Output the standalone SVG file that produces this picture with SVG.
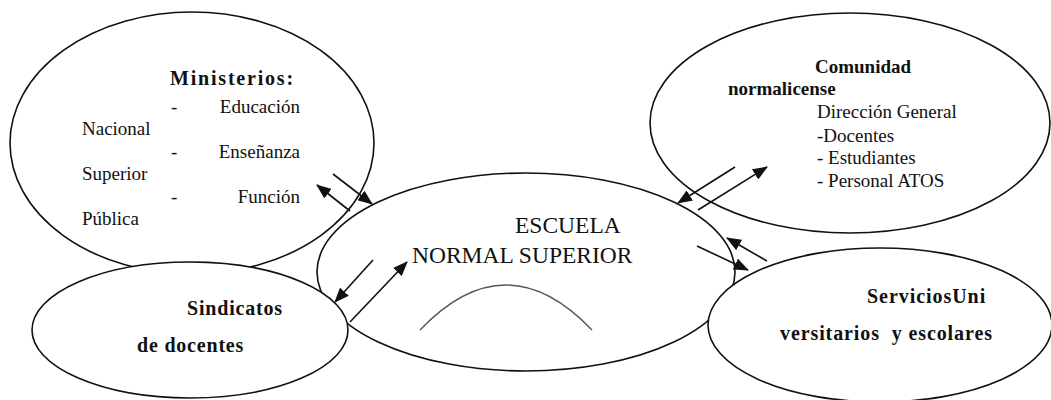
<svg xmlns="http://www.w3.org/2000/svg" width="1051" height="400" viewBox="0 0 1051 400">
<style>
.e{fill:none;stroke:#111;stroke-width:1.6}
.w{fill:#fff;stroke:#111;stroke-width:1.6}
text{font-family:'Liberation Serif','DejaVu Serif',serif;font-size:19px;fill:#111}
.b{font-weight:bold}
.c{stroke:#111;stroke-width:1.6;fill:none;marker-end:url(#ah)}
</style>
<defs>
<marker id="ah" viewBox="0 0 15 12" refX="14" refY="6" markerWidth="15" markerHeight="12" markerUnits="userSpaceOnUse" orient="auto">
<path d="M0,0 L15,6 L0,12 z" fill="#111"/>
</marker>
</defs>
<rect width="1051" height="400" fill="#fff"/>
<g id="ministerios">
<ellipse class="e" cx="192" cy="143" rx="182" ry="131"/>
<text class="b" x="170" y="85" style="font-size:20px;letter-spacing:1.8px">Ministerios:</text>
<text x="171" y="113">-</text>
<text x="300" y="113" text-anchor="end">Educación</text>
<text x="82" y="135">Nacional</text>
<text x="171" y="158">-</text>
<text x="300" y="158" text-anchor="end">Enseñanza</text>
<text x="82" y="180">Superior</text>
<text x="171" y="203">-</text>
<text x="300" y="203" text-anchor="end">Función</text>
<text x="82" y="225">Pública</text>
</g>
<g id="comunidad">
<ellipse class="e" cx="850" cy="123" rx="200" ry="110"/>
<text class="b" x="815" y="73">Comunidad</text>
<text class="b" x="728" y="95">normalicense</text>
<text x="817" y="118">Dirección General</text>
<text x="817" y="142">-Docentes</text>
<text x="817" y="164">- Estudiantes</text>
<text x="817" y="187">- Personal ATOS</text>
</g>
<g id="escuela">
<ellipse class="e" cx="526" cy="272" rx="209" ry="99"/>
<text x="515" y="233" style="font-size:23.5px">ESCUELA</text>
<text x="412" y="263" style="font-size:23.5px">NORMAL SUPERIOR</text>
<path d="M420,330 Q506,240 592,330" fill="none" stroke="#555" stroke-width="1.4"/>
</g>
<g id="sindicatos">
<ellipse class="w" cx="190" cy="330" rx="158" ry="68"/>
<text class="b" x="187" y="315" style="font-size:20px;letter-spacing:0.8px">Sindicatos</text>
<text class="b" x="137" y="352" style="font-size:20px;letter-spacing:0.8px">de docentes</text>
</g>
<g id="servicios">
<ellipse class="w" cx="880" cy="325" rx="172" ry="77"/>
<text class="b" x="867" y="303" style="font-size:20px;letter-spacing:0.95px">ServiciosUni</text>
<text class="b" x="780" y="340" style="font-size:20px;letter-spacing:0.9px" xml:space="preserve">versitarios  y escolares</text>
</g>
<g id="connectors">
<line class="c" x1="333" y1="174" x2="372" y2="204"/>
<line class="c" x1="350" y1="211" x2="317" y2="185"/>
<line class="c" x1="373" y1="260" x2="335" y2="302"/>
<line class="c" x1="350" y1="322" x2="407" y2="262"/>
<line class="c" x1="735" y1="167" x2="678" y2="203"/>
<line class="c" x1="698" y1="210" x2="767" y2="167"/>
<line class="c" x1="697" y1="246" x2="748" y2="270"/>
<line class="c" x1="767" y1="261" x2="727" y2="238"/>
</g>
</svg>
